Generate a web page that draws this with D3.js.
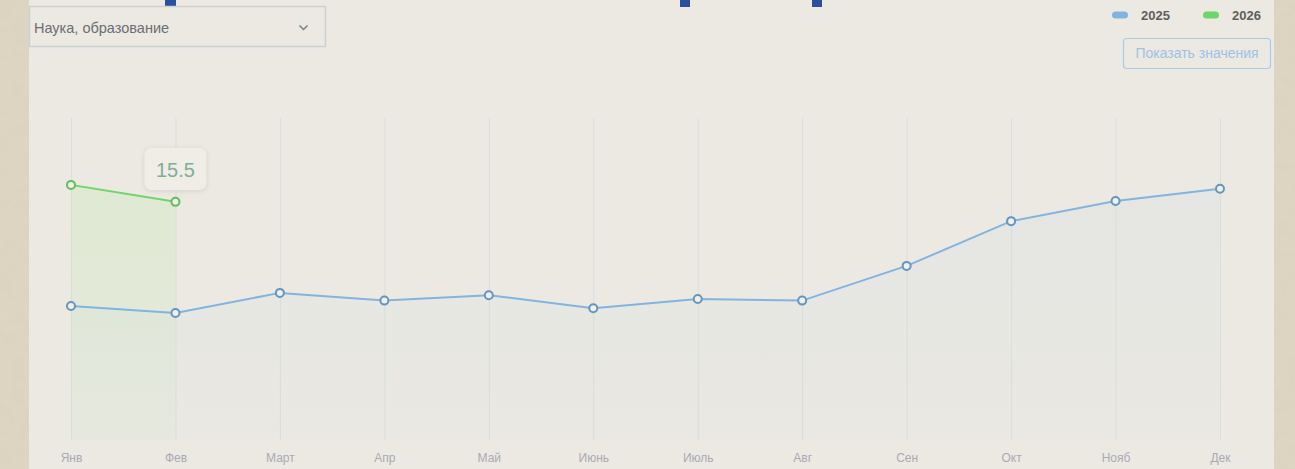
<!DOCTYPE html>
<html><head><meta charset="utf-8">
<script src="https://cdn.jsdelivr.net/npm/d3@7"></script>
<style>
html,body{margin:0;padding:0;width:1295px;height:469px;overflow:hidden;background:#dad1be;font-family:"Liberation Sans",Arial,sans-serif;}
svg{display:block;}
</style></head><body>
<svg id="c" width="1295" height="469"></svg>
<script>
const months = ["Янв","Фев","Март","Апр","Май","Июнь","Июль","Авг","Сен","Окт","Нояб","Дек"];
const values2025 = [8.75, 8.3, 9.6, 9.1, 9.45, 8.6, 9.2, 9.1, 11.35, 14.25, 15.55, 16.35];
const values2026 = [16.6, 15.5];
const seriesNames = ["2025","2026"];
const tooltipValue = "15.5";
const dropdownLabel = "Наука, образование";
const buttonLabel = "Показать значения";

const svg = d3.select("#c");
const W = 1295, H = 469;
const defs = svg.append("defs");

// background texture
const f = defs.append("filter").attr("id","noise").attr("x",0).attr("y",0).attr("width","100%").attr("height","100%");
f.append("feTurbulence").attr("type","fractalNoise").attr("baseFrequency","0.08").attr("numOctaves",3).attr("seed",4).attr("result","n");
f.append("feColorMatrix").attr("in","n").attr("type","matrix")
 .attr("values","0 0 0 0 0.78  0 0 0 0 0.72  0 0 0 0 0.6  0 0 0 0.35 0");
svg.append("rect").attr("width",W).attr("height",H).attr("fill","#dbd2bf");
svg.append("rect").attr("width",W).attr("height",H).attr("filter","url(#noise)");

// panel
svg.append("rect").attr("x",29).attr("y",0).attr("width",1245).attr("height",H).attr("fill","#ece9e2");

// blue marks at top
[[165,11],[680,10],[812,10]].forEach(([x,w])=>{
  svg.append("rect").attr("x",x).attr("y",0).attr("width",w).attr("height",7).attr("fill","#2a4f9f");
});

// dropdown
svg.append("rect").attr("x",29.5).attr("y",6.5).attr("width",296).attr("height",40).attr("fill","none").attr("stroke","#c9d1d2").attr("stroke-width",1.5);
svg.append("text").attr("x",34).attr("y",33).attr("font-size",14.5).attr("fill","#6b6e72").text(dropdownLabel);
svg.append("path").attr("d","M299.5,25.5 L303.5,29.5 L307.5,25.5").attr("fill","none").attr("stroke","#6f8585").attr("stroke-width",1.5);

// scales
const x = d3.scalePoint().domain(months).range([71,1220]);
const y = d3.scaleLinear().domain([0,21]).range([441,117]);

// grid
svg.append("g").selectAll("line").data(months).join("line")
  .attr("x1",d=>x(d)+0.5).attr("x2",d=>x(d)+0.5).attr("y1",118).attr("y2",440)
  .attr("stroke","#dadfdc").attr("stroke-width",1);

// x axis labels
const ax = svg.append("g").attr("transform","translate(0,466)")
  .call(d3.axisBottom(x).tickSize(0).tickPadding(0));
ax.select(".domain").remove();
ax.selectAll("text").attr("font-size",12).attr("fill","#a8aab6").attr("font-family","'Liberation Sans',Arial,sans-serif").attr("dy","-0.3em");

// gradients
function grad(id,color,o1,o2){
  const g = defs.append("linearGradient").attr("id",id).attr("x1",0).attr("y1",0).attr("x2",0).attr("y2",1);
  g.append("stop").attr("offset","0%").attr("stop-color",color).attr("stop-opacity",o1);
  g.append("stop").attr("offset","100%").attr("stop-color",color).attr("stop-opacity",o2);
}
grad("gb","#b8d4e8",0.14,0.05);
grad("gg","#bfe8ae",0.3,0.08);

const d25 = months.map((m,i)=>({m,v:values2025[i]}));
const d26 = values2026.map((v,i)=>({m:months[i],v}));

const area = d3.area().x(d=>x(d.m)).y0(440).y1(d=>y(d.v));
const line = d3.line().x(d=>x(d.m)).y(d=>y(d.v));

svg.append("path").datum(d25).attr("d",area).attr("fill","url(#gb)");
svg.append("path").datum(d26).attr("d",area).attr("fill","url(#gg)");

svg.append("path").datum(d25).attr("d",line).attr("fill","none").attr("stroke","#82b4e0").attr("stroke-width",2);
svg.append("path").datum(d26).attr("d",line).attr("fill","none").attr("stroke","#6fd56a").attr("stroke-width",2);

svg.append("g").selectAll("circle").data(d25).join("circle")
  .attr("cx",d=>x(d.m)).attr("cy",d=>y(d.v)).attr("r",4)
  .attr("fill","#f1efea").attr("stroke","#6396c0").attr("stroke-width",2);
svg.append("g").selectAll("circle").data(d26).join("circle")
  .attr("cx",d=>x(d.m)).attr("cy",d=>y(d.v)).attr("r",4)
  .attr("fill","#f1efea").attr("stroke","#5fbf5a").attr("stroke-width",2);

// tooltip
const sh = defs.append("filter").attr("id","sh").attr("x","-30%").attr("y","-30%").attr("width","160%").attr("height","160%");
sh.append("feDropShadow").attr("dx",0).attr("dy",1).attr("stdDeviation",2.5).attr("flood-color","#b8b0a0").attr("flood-opacity",0.45);
const tx = x(months[1]);
svg.append("rect").attr("x",tx-31).attr("y",148).attr("width",62).attr("height",42).attr("rx",7)
  .attr("fill","#f0ede6").attr("filter","url(#sh)");
svg.append("text").attr("x",tx).attr("y",177).attr("text-anchor","middle").attr("font-size",20)
  .attr("fill","#7eae98").text(tooltipValue);

// legend
const legCol = ["#7fb3e0","#6dd56a"];
const legX = [1112,1203];
seriesNames.forEach((s,i)=>{
  svg.append("rect").attr("x",legX[i]).attr("y",11.5).attr("width",16).attr("height",7).attr("rx",3.5).attr("fill",legCol[i]);
  svg.append("text").attr("x",legX[i]+29).attr("y",20).attr("font-size",13).attr("font-weight","bold").attr("fill","#5e5e5e").text(s);
});

// button
svg.append("rect").attr("x",1123.5).attr("y",38.5).attr("width",147).attr("height",30).attr("rx",3)
  .attr("fill","none").attr("stroke","#a9cbea").attr("stroke-width",1.2);
svg.append("text").attr("x",1197).attr("y",58).attr("text-anchor","middle").attr("font-size",14).attr("fill","#9cc2e4").text(buttonLabel);
</script>
</body></html>
